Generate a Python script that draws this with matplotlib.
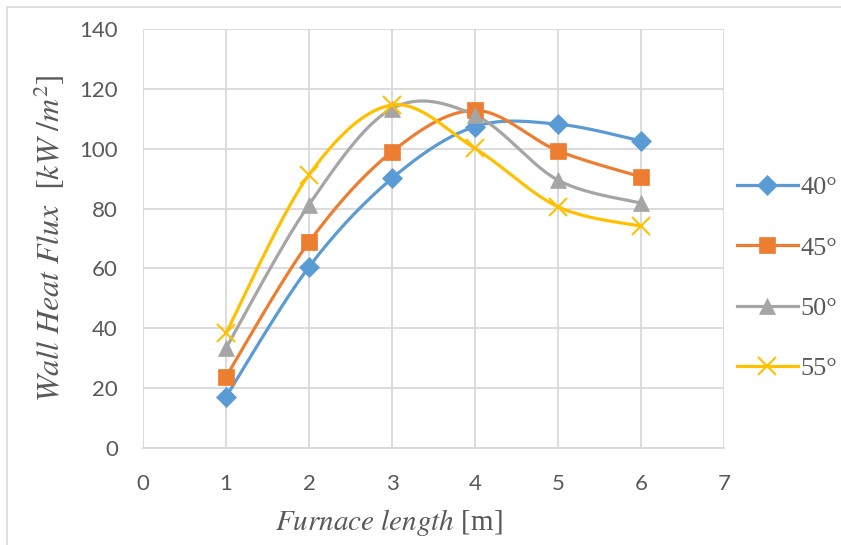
import numpy as np
import matplotlib.pyplot as plt
from matplotlib.patches import Rectangle

# datos
x = [1, 2, 3, 4, 5, 6]
s40 = [17.1, 60.5, 90.1, 107.4, 108.2, 102.6]
s45 = [23.8, 68.8, 99.0, 112.8, 99.3, 90.6]
s50 = [33.4, 81.3, 113.4, 111.2, 89.5, 81.8]
s55 = [38.4, 91.3, 114.6, 100.1, 80.6, 74.1]
labels = ["40°", "45°", "50°", "55°"]
series = [s40, s45, s50, s55]

colores = ["#5B9BD5", "#ED7D31", "#A5A5A5", "#FFC000"]
marcadores = ["D", "s", "^", "x"]
tamanos = [10, 12, 12, 13]


def suavizar(xs, ys, n=40):
    # curva suavizada tipo Excel (Bezier con tangentes Catmull-Rom)
    p = np.column_stack([xs, ys]).astype(float)
    ext = np.vstack([p[0], p, p[-1]])
    out = []
    for i in range(len(p) - 1):
        p0, p1, p2, p3 = ext[i], ext[i + 1], ext[i + 2], ext[i + 3]
        c1 = p1 + (p2 - p0) / 6
        c2 = p2 - (p3 - p1) / 6
        t = np.linspace(0, 1, n)[:, None]
        seg = ((1 - t) ** 3) * p1 + 3 * ((1 - t) ** 2) * t * c1 + 3 * (1 - t) * t ** 2 * c2 + t ** 3 * p2
        out.append(seg)
    c = np.vstack(out)
    return c[:, 0], c[:, 1]


plt.rcParams["mathtext.fontset"] = "stix"
fig = plt.figure(figsize=(8.41, 5.45), dpi=100)
ax = fig.add_axes([143 / 841, 1 - 448 / 545, (724 - 143) / 841, (448 - 29) / 545])

gris_txt = "#595959"
for ys, col, mk, ms, lab in zip(series, colores, marcadores, tamanos, labels):
    cx, cy = suavizar(x, ys)
    ax.plot(cx, cy, color=col, linewidth=2.3, zorder=3)
    ax.plot(x, ys, linestyle="none", marker=mk, markersize=ms, color=col,
            markeredgewidth=1.5 if mk == "x" else 0.5, zorder=4)
    ax.plot([], [], color=col, linewidth=2.3, marker=mk, markersize=ms,
            markeredgewidth=1.5 if mk == "x" else 0.5, label=lab)

ax.set_xlim(0, 7)
ax.set_ylim(0, 140)
ax.set_xticks(range(0, 8))
ax.set_yticks(range(0, 141, 20))
ax.grid(True, color="#D9D9D9", linewidth=1.3)
ax.set_axisbelow(True)
for s in ax.spines.values():
    s.set_visible(False)
ax.spines["bottom"].set_visible(True)
ax.spines["bottom"].set_color("#D9D9D9")
ax.spines["bottom"].set_linewidth(1.3)
ax.tick_params(length=0, labelsize=16, labelcolor=gris_txt)
ax.tick_params(axis="y", pad=18)
ax.tick_params(axis="x", pad=19)
for t in ax.get_xticklabels() + ax.get_yticklabels():
    t.set_fontfamily("Lato")

fig.text(275 / 841, 1 - 523 / 545, r"$Furnace\ length$" + " [m]", fontsize=21, color=gris_txt,
         family="Liberation Serif", ha="left", va="center")
fig.text(49 / 841, 1 - 238 / 545, r"$Wall\ Heat\ Flux\ \ [kW\ /m^2]$", fontsize=23,
         color=gris_txt, rotation=90, ha="center", va="center")

leg = fig.legend(loc="center left", bbox_to_anchor=(737 / 841, 1 - 278 / 545),
                 frameon=False, handlelength=2.3, labelspacing=1.4, borderpad=0,
                 borderaxespad=0, prop={"family": "Liberation Serif", "size": 19},
                 handletextpad=0.1)
for t in leg.get_texts():
    t.set_color(gris_txt)
    t.set_fontfamily("Liberation Serif")

fig.patches.append(Rectangle((7 / 841, -0.1), 1.0, 1 - 7 / 545 + 0.1, transform=fig.transFigure,
                             fill=False, edgecolor="#D9D9D9", linewidth=1.2))

fig.savefig("out.png", dpi=100)
